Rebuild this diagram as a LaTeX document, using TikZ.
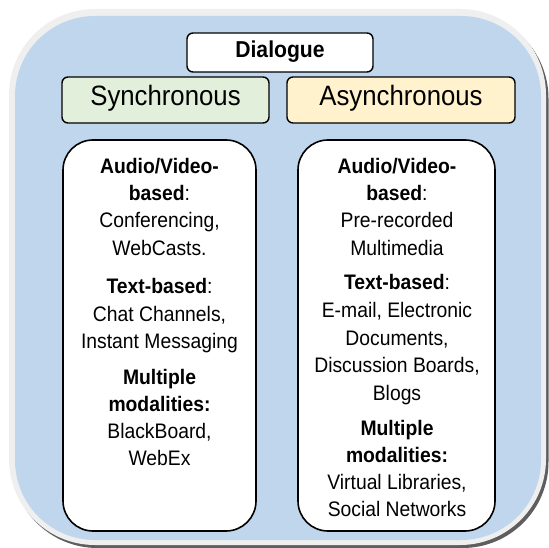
\documentclass[tikz,border=0pt]{standalone}
\usepackage{fontspec}
\setmainfont{Liberation Sans}[FakeStretch=0.92]
\definecolor{bgblue}{HTML}{BFD6EC}
\definecolor{ring}{HTML}{EFEFEF}
\definecolor{shade}{HTML}{5E5E5E}
\definecolor{syncgreen}{HTML}{E2EFDA}
\definecolor{asyncyellow}{HTML}{FFF2CC}
\tikzset{
  headbox/.style={draw=black, line width=1.4pt, rounded corners=6pt, inner sep=0pt, anchor=base},
  contentbox/.style={draw=black, line width=1.6pt, fill=white, rounded corners=30pt, inner sep=0pt},
  bodytext/.style={inner sep=0pt, anchor=base, font=\fontsize{21}{27}\selectfont},
}
\newcommand\tline[4]{\node[bodytext] (#1) at (#2,#3) {#4};}
\begin{document}
\begin{tikzpicture}[x=1pt,y=-1pt]
\useasboundingbox (0,0) rectangle (549,548);
% outer frame with shadow
\path[fill=shade, rounded corners=86pt] (11.5,12.5) rectangle (548.5,548);
\path[fill=ring, rounded corners=86pt] (9,9) rectangle (546,545);
\path[fill=bgblue, rounded corners=80pt] (15,16) rectangle (541,540);
% headings
\node[headbox, fill=white, minimum width=186pt, text height=25pt, text depth=14pt,
      font=\bfseries\fontsize{23}{27}\selectfont] (dlg) at (280,58) {Dialogue};
\node[headbox, fill=syncgreen, minimum width=207pt, text height=28.5pt, text depth=17.5pt,
      font=\fontsize{28}{32}\selectfont] (sync) at (165.5,105.5) {Synchronous};
\node[headbox, fill=asyncyellow, minimum width=228pt, text height=28.5pt, text depth=17.5pt,
      font=\fontsize{28}{32}\selectfont] (async) at (401,105.5) {Asynchronous};
% content boxes
\node[contentbox, minimum width=193pt, minimum height=391pt] (lbox) at (159.5,335.5) {};
\node[contentbox, minimum width=197pt, minimum height=391pt] (rbox) at (396.5,335.5) {};
% left text
\tline{l1}{159.5}{174}{\textbf{Audio/Video-}}
\tline{l2}{159.5}{201}{\textbf{based}:}
\tline{l3}{159.5}{228}{Conferencing,}
\tline{l4}{159.5}{255}{WebCasts.}
\tline{l5}{159.5}{293.5}{\textbf{Text-based}:}
\tline{l6}{159.5}{321}{Chat Channels,}
\tline{l7}{159.5}{348}{Instant Messaging}
\tline{l8}{159.5}{384}{\textbf{Multiple}}
\tline{l9}{159.5}{411}{\textbf{modalities:}}
\tline{l10}{159.5}{438}{BlackBoard,}
\tline{l11}{159.5}{465}{WebEx}
% right text
\tline{r1}{397}{174}{\textbf{Audio/Video-}}
\tline{r2}{397}{201}{\textbf{based}:}
\tline{r3}{397}{228}{Pre-recorded}
\tline{r4}{397}{255}{Multimedia}
\tline{r5}{397}{290}{\textbf{Text-based}:}
\tline{r6}{397}{317.5}{E-mail, Electronic}
\tline{r7}{397}{345}{Documents,}
\tline{r8}{397}{372.5}{Discussion Boards,}
\tline{r9}{397}{400}{Blogs}
\tline{r10}{397}{435}{\textbf{Multiple}}
\tline{r11}{397}{462}{\textbf{modalities:}}
\tline{r12}{397}{489}{Virtual Libraries,}
\tline{r13}{397}{516}{Social Networks}
\end{tikzpicture}
\end{document}
